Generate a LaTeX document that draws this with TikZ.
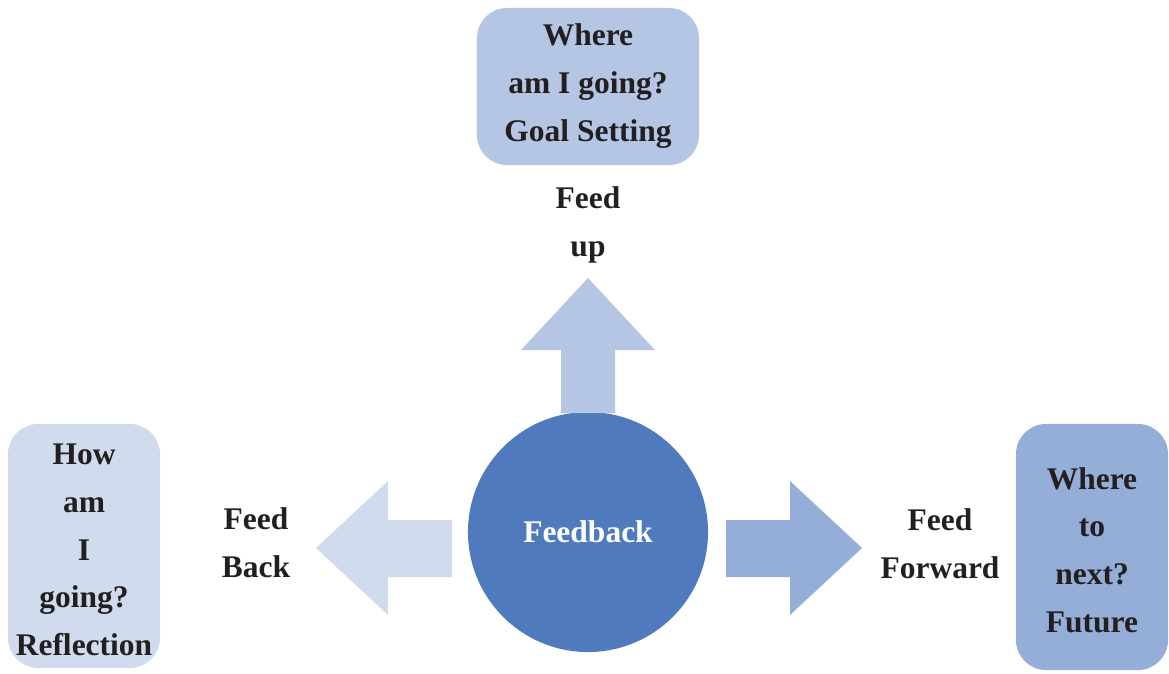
\documentclass[tikz,border=0pt]{standalone}
\usepackage{fontspec}
\setmainfont{Liberation Serif}
\usetikzlibrary{positioning}

\definecolor{upblue}{RGB}{180,198,228}
\definecolor{backblue}{RGB}{208,220,238}
\definecolor{fwdblue}{RGB}{148,174,216}
\definecolor{coreblue}{RGB}{79,122,190}
\definecolor{inkdark}{RGB}{35,31,32}

\tikzset{
  boxtxt/.style={font=\fontsize{22.4}{34}\selectfont\bfseries, text=inkdark, align=center},
  qbox/.style={rounded corners=0.75cm, inner sep=0pt},
}

\begin{document}
\begin{tikzpicture}[x=0.025cm, y=-0.025cm]

  \useasboundingbox (0,0) rectangle (1169,673);

  %% ================= CENTRE ==================
  \node[circle, fill=coreblue, minimum size=6cm, inner sep=0pt,
        font=\fontsize{22.4}{34}\selectfont\bfseries, text=white]
    (core) at (588,532) {Feedback};

  %% ================= FEED UP =================
  % block arrow pointing up
  \fill[upblue] (561,413) -- (561,350) -- (521,350) -- (588,278)
    -- (655,350) -- (615,350) -- (615,413) -- cycle;
  \node[boxtxt] (uplbl) at (588,225) {Feed\\up};
  \node[qbox, fill=upblue, minimum width=5.55cm, minimum height=3.925cm]
    (goal) at (588,86.5) {};
  \node[boxtxt] (goaltxt) at (588,86) {Where\\am I going?\\Goal Setting};

  %% ================ FEED BACK ================
  % block arrow pointing left
  \fill[backblue] (452,520) -- (388,520) -- (388,481) -- (316,548)
    -- (388,615) -- (388,577) -- (452,577) -- cycle;
  \node[boxtxt] (backlbl) at (256,543) {Feed\\Back};
  \node[qbox, fill=backblue, minimum width=3.8cm, minimum height=6.1cm]
    (refl) at (84,546) {};
  \node[boxtxt] (refltxt) at (84,550) {How\\am\\I\\going?\\Reflection};

  %% =============== FEED FORWARD ==============
  % block arrow pointing right
  \fill[fwdblue] (726,520) -- (790,520) -- (790,481) -- (862,548)
    -- (790,615) -- (790,577) -- (726,577) -- cycle;
  \node[boxtxt] (fwdlbl) at (940,544) {Feed\\Forward};
  \node[qbox, fill=fwdblue, minimum width=3.8cm, minimum height=6.15cm]
    (future) at (1092,547) {};
  \node[boxtxt] (futtxt) at (1092,550) {Where\\to\\next?\\Future};

\end{tikzpicture}
\end{document}
